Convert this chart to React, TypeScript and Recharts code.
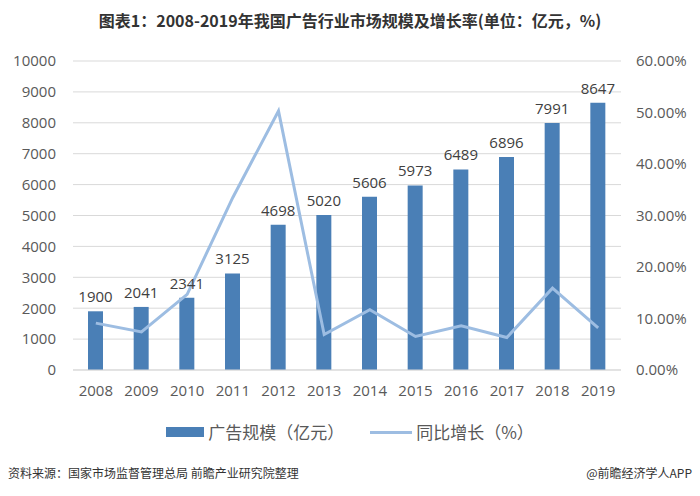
import { Bar, CartesianGrid, ComposedChart, LabelList, Line, XAxis, YAxis } from "recharts";

const years = ["2008", "2009", "2010", "2011", "2012", "2013", "2014", "2015", "2016", "2017", "2018", "2019"];
const scale = [1900, 2041, 2341, 3125, 4698, 5020, 5606, 5973, 6489, 6896, 7991, 8647];
const growth = [9.1, 7.4, 14.7, 33.5, 50.3, 6.9, 11.7, 6.5, 8.6, 6.3, 15.9, 8.2];
const leftTicks = [0, 1000, 2000, 3000, 4000, 5000, 6000, 7000, 8000, 9000, 10000];
const rightTicks = [0, 10, 20, 30, 40, 50, 60];

const data = years.map((year, i) => ({ year, scale: scale[i], growth: growth[i] }));

const BAR = "#4a7fb6";
const LINE = "#9dbde2";
const tickStyle = { fontFamily: "'Open Sans', sans-serif", fontSize: 15, fill: "#595959" };

export default function App() {
  return (
    <div
      style={{
        position: "absolute",
        left: 0,
        top: 0,
        width: 700,
        height: 496,
        background: "#fff",
        fontFamily: "'Noto Sans CJK SC', sans-serif",
      }}
    >
      <div
        style={{
          position: "absolute",
          top: 9,
          width: 700,
          textAlign: "center",
          fontSize: 16,
          fontWeight: 700,
          color: "#333",
          lineHeight: "22px",
        }}
      >
        图表1：2008-2019年我国广告行业市场规模及增长率(单位：亿元，%)
      </div>

      <div style={{ position: "absolute", left: 0, top: 0 }}>
        <ComposedChart width={700} height={400} data={data} margin={{ top: 61, right: 0, left: 0, bottom: 0 }}>
          <CartesianGrid yAxisId="left" vertical={false} stroke="#d9d9d9" />
          <XAxis
            dataKey="year"
            height={30}
            tickLine={false}
            tickSize={0}
            tickMargin={15}
            axisLine={{ stroke: "#d9d9d9" }}
            tick={tickStyle}
            interval={0}
          />
          <YAxis
            yAxisId="left"
            width={73}
            domain={[0, 10000]}
            ticks={leftTicks}
            axisLine={false}
            tickLine={false}
            tickSize={0}
            tickMargin={17}
            tick={tickStyle}
            interval={0}
          />
          <YAxis
            yAxisId="right"
            orientation="right"
            width={79}
            domain={[0, 60]}
            ticks={rightTicks}
            axisLine={false}
            tickLine={false}
            tickSize={0}
            tickMargin={15}
            tick={{ ...tickStyle, textAnchor: "start" }}
            tickFormatter={(v: number) => v.toFixed(2) + "%"}
            interval={0}
          />
          <Bar yAxisId="left" dataKey="scale" fill={BAR} barSize={15} isAnimationActive={false}>
            <LabelList
              dataKey="scale"
              position="top"
              offset={9}
              style={{ fontFamily: "'Open Sans', sans-serif", fontSize: 15, fill: "#404040" }}
            />
          </Bar>
          <Line
            yAxisId="right"
            dataKey="growth"
            stroke={LINE}
            strokeWidth={3}
            dot={false}
            activeDot={false}
            isAnimationActive={false}
          />
        </ComposedChart>
      </div>

      <div
        style={{
          position: "absolute",
          top: 421,
          left: 0,
          width: 700,
          display: "flex",
          justifyContent: "center",
          alignItems: "center",
          fontSize: 17,
          color: "#595959",
          lineHeight: "22px",
        }}
      >
        <div style={{ width: 38, height: 10, background: BAR, marginRight: 4 }} />
        <span style={{ marginRight: 26 }}>广告规模（亿元）</span>
        <div style={{ width: 42, height: 3, background: LINE, marginRight: 4 }} />
        <span>同比增长（%）</span>
      </div>

      <div
        style={{
          position: "absolute",
          top: 465,
          left: 8,
          fontSize: 12,
          color: "#333",
          lineHeight: "16px",
        }}
      >
        资料来源：国家市场监督管理总局 前瞻产业研究院整理
      </div>
      <div
        style={{
          position: "absolute",
          top: 465,
          right: 8,
          fontSize: 12,
          color: "#333",
          lineHeight: "16px",
        }}
      >
        @前瞻经济学人APP
      </div>
    </div>
  );
}
